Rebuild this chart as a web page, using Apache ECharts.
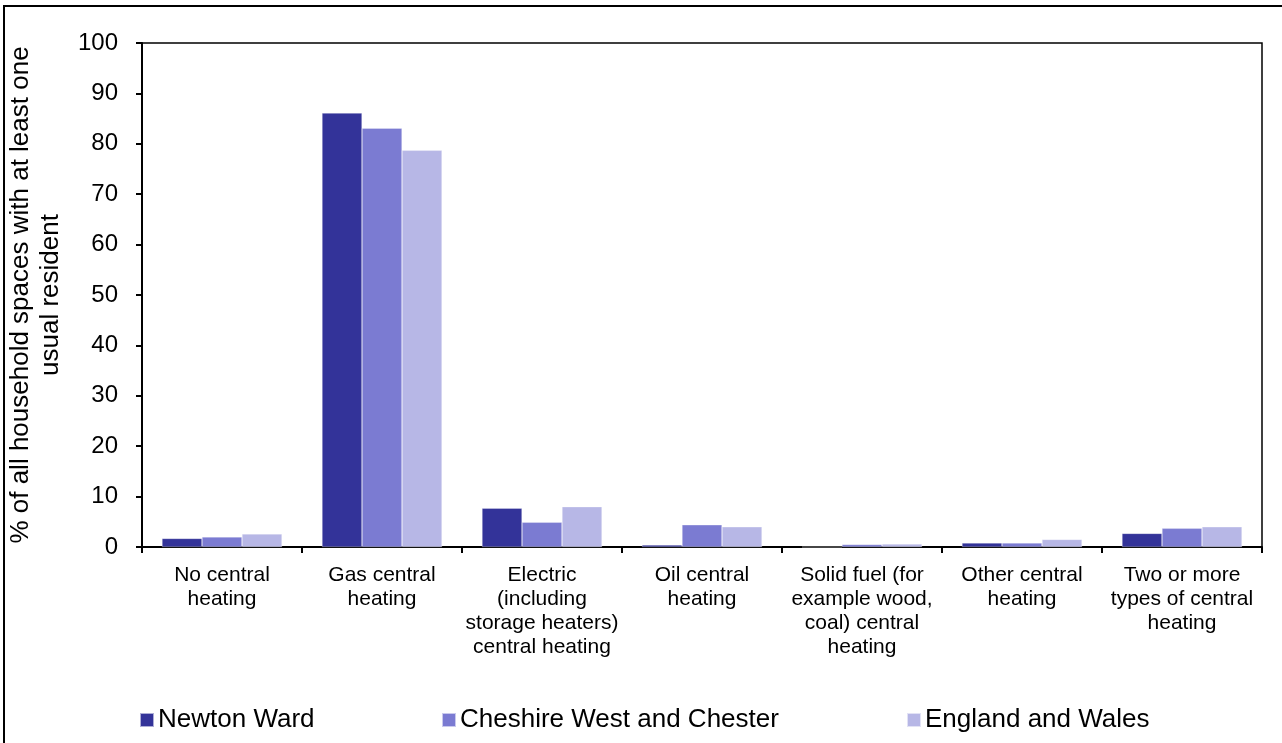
<!DOCTYPE html>
<html>
<head>
<meta charset="utf-8">
<script src="https://cdn.jsdelivr.net/npm/echarts@6/dist/echarts.min.js"></script>
<style>html,body{margin:0;padding:0;background:#fff;}#c{width:1282px;height:743px;}</style>
</head>
<body>
<div id="c"></div>
<script>
var categories = [
  'No central\nheating',
  'Gas central\nheating',
  'Electric\n(including\nstorage heaters)\ncentral heating',
  'Oil central\nheating',
  'Solid fuel (for\nexample wood,\ncoal) central\nheating',
  'Other central\nheating',
  'Two or more\ntypes of central\nheating'
];
var seriesNames = ['Newton Ward', 'Cheshire West and Chester', 'England and Wales'];
var newtonWard = [1.7, 86.1, 7.7, 0.4, 0.0, 0.8, 2.7];
var cheshireWest = [2.0, 83.1, 4.9, 4.4, 0.5, 0.8, 3.7];
var englandWales = [2.6, 78.7, 8.0, 4.0, 0.6, 1.5, 4.0];
var yTicks = [0, 10, 20, 30, 40, 50, 60, 70, 80, 90, 100];
var colors = ['#333399', '#7b7bd2', '#b7b7e6'];

var chart = echarts.init(document.getElementById('c'));
var font = 'Liberation Sans, Arial, sans-serif';
function mkLegend(i, left) {
  return {
    data: [seriesNames[i]], left: left, top: 702,
    icon: 'rect', itemWidth: 14, itemHeight: 14, itemGap: 0,
    textStyle: {fontFamily: font, fontSize: 26, color: '#000', padding: [0, 0, 0, -1]},
    selectedMode: false
  };
}
var vals = [newtonWard, cheshireWest, englandWales];
chart.setOption({
  animation: false,
  backgroundColor: '#fff',
  graphic: [{
    type: 'rect', shape: {x: 4, y: 6, width: 1400, height: 800},
    style: {fill: 'none', stroke: '#000', lineWidth: 2}, silent: true
  }],
  grid: {left: 142, top: 43, right: 20, bottom: 196, outerBoundsMode: 'none', containLabel: false,
    show: true, borderColor: '#000', borderWidth: 1.5, backgroundColor: 'transparent'},
  legend: [mkLegend(0, 134), mkLegend(1, 436), mkLegend(2, 901)],
  xAxis: {
    type: 'category', data: categories,
    axisLine: {lineStyle: {color: '#000', width: 2}},
    axisTick: {show: true, length: 6, interval: 0, alignWithLabel: false, lineStyle: {color: '#000', width: 2}},
    axisLabel: {interval: 0, margin: 16, color: '#000', fontFamily: font, fontSize: 21, lineHeight: 24}
  },
  yAxis: {
    type: 'value', min: yTicks[0], max: yTicks[yTicks.length - 1], interval: 10,
    name: '% of all household spaces with at least one\nusual resident',
    nameLocation: 'middle', nameGap: 76, nameRotate: 90,
    nameTextStyle: {fontFamily: font, fontSize: 26, color: '#000', lineHeight: 30},
    axisLine: {show: true, lineStyle: {color: '#000', width: 2}},
    axisTick: {show: true, length: 6, inside: false, lineStyle: {color: '#000', width: 2}},
    splitLine: {show: false},
    axisLabel: {margin: 24, color: '#000', fontFamily: font, fontSize: 24}
  },
  series: seriesNames.map(function (n, i) {
    return {
      name: n, type: 'bar', data: vals[i], barGap: '0%', barCategoryGap: '25%',
      itemStyle: {color: colors[i], borderColor: 'rgba(255,255,255,0.6)', borderWidth: 0.5}
    };
  })
});
</script>
</body>
</html>
